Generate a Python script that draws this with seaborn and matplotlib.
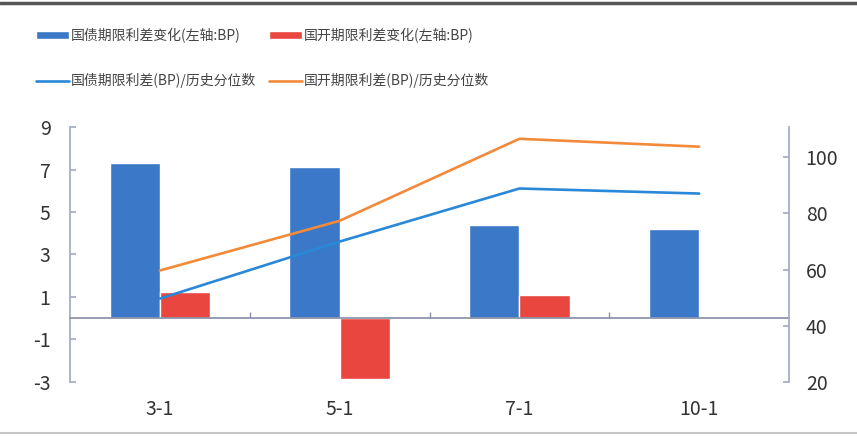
import matplotlib
matplotlib.use("Agg")
import matplotlib.pyplot as plt
from matplotlib.patches import Patch
from matplotlib.lines import Line2D
from matplotlib.ticker import FixedLocator
import pandas as pd
import seaborn as sns

# data
terms = ["3-1", "5-1", "7-1", "10-1"]
gz_change = [7.3, 7.1, 4.4, 4.2]        # 国债期限利差变化 (左轴, BP)
gk_change = [1.25, -2.85, 1.1, 0.05]    # 国开期限利差变化 (左轴, BP)
gz_pct = [49.7, 70.0, 88.9, 87.1]       # 国债期限利差/历史分位数 (右轴)
gk_pct = [59.7, 77.4, 106.6, 103.8]     # 国开期限利差/历史分位数 (右轴)

names = ["国债期限利差变化(左轴:BP)", "国开期限利差变化(左轴:BP)",
         "国债期限利差(BP)/历史分位数", "国开期限利差(BP)/历史分位数"]

c_bar_blue = "#3b78c8"
c_bar_red = "#e8463e"
c_line_blue = "#2a88d8"
c_line_orange = "#f28a3a"
c_spine = "#a3abc4"

sns.set_theme(style="white")
plt.rcParams["font.family"] = ["Noto Sans CJK SC", "DejaVu Sans"]
plt.rcParams["axes.unicode_minus"] = False

bars = pd.DataFrame({
    "term": terms * 2,
    "value": gz_change + gk_change,
    "series": [names[0]] * 4 + [names[1]] * 4,
})
lines = pd.DataFrame({
    "term": terms * 2,
    "value": gz_pct + gk_pct,
    "series": [names[2]] * 4 + [names[3]] * 4,
})

fig = plt.figure(figsize=(8.57, 4.36), dpi=100)
ax = fig.add_axes([0.0817, 0.1239, 0.839, 0.5848])

sns.barplot(data=bars, x="term", y="value", hue="series", order=terms,
            palette=[c_bar_blue, c_bar_red], width=0.56, gap=0,
            saturation=1, ax=ax, legend=False)
ax.set_xlim(-0.5, 3.5)
ax.set_ylim(-3, 9)
ax.set_yticks([-3, -1, 1, 3, 5, 7, 9])
ax.set_xlabel("")
ax.set_ylabel("")

ax2 = ax.twinx()
sns.lineplot(data=lines, x="term", y="value", hue="series", sort=False,
             palette=[c_line_blue, c_line_orange], linewidth=1.9,
             ax=ax2, legend=False)
ax2.set_ylim(20.5, 110.8)
ax2.set_yticks([20, 40, 60, 80, 100])
ax2.set_xlim(-0.5, 3.5)
ax2.set_xlabel("")
ax2.set_ylabel("")

# spines
for a in (ax, ax2):
    for s in a.spines.values():
        s.set_visible(False)
ax.spines["left"].set_visible(True)
ax.spines["left"].set_color(c_spine)
ax.spines["bottom"].set_visible(True)
ax.spines["bottom"].set_color("#8a90a8")
ax.spines["bottom"].set_position(("data", 0))
ax2.spines["right"].set_visible(True)
ax2.spines["right"].set_color(c_spine)

ax.tick_params(axis="y", direction="in", length=4, color=c_spine,
               labelsize=14, labelcolor="#333333", pad=14)
ax2.tick_params(axis="y", direction="in", length=4, color=c_spine,
                labelsize=14, labelcolor="#333333", pad=12)
ax.xaxis.set_minor_locator(FixedLocator([0.5, 1.5, 2.5]))
ax.tick_params(axis="x", which="major", length=0, labelsize=14,
               labelcolor="#333333", pad=58)
ax.tick_params(axis="x", which="minor", direction="in", length=4,
               color="#8a90a8", bottom=True)

handles = [
    Patch(facecolor=c_bar_blue, label=names[0]),
    Patch(facecolor=c_bar_red, label=names[1]),
    Line2D([], [], color=c_line_blue, lw=1.9, label=names[2]),
    Line2D([], [], color=c_line_orange, lw=1.9, label=names[3]),
]
fig.legend(handles=[handles[0], handles[2], handles[1], handles[3]], ncol=2,
           loc="upper left", bbox_to_anchor=(0.027, 0.965), frameon=False,
           fontsize=10, handlelength=2.4, handleheight=0.55,
           handletextpad=0.15, columnspacing=0.9, labelspacing=2.2,
           labelcolor="#444444")

# scan border lines
fig.add_artist(Line2D([0, 1], [0.993, 0.993], color="#555555", lw=2.5,
                      transform=fig.transFigure))
fig.add_artist(Line2D([0, 1], [0.006, 0.006], color="#c8c8c8", lw=1.5,
                      transform=fig.transFigure))

fig.savefig("out.png", dpi=100)
